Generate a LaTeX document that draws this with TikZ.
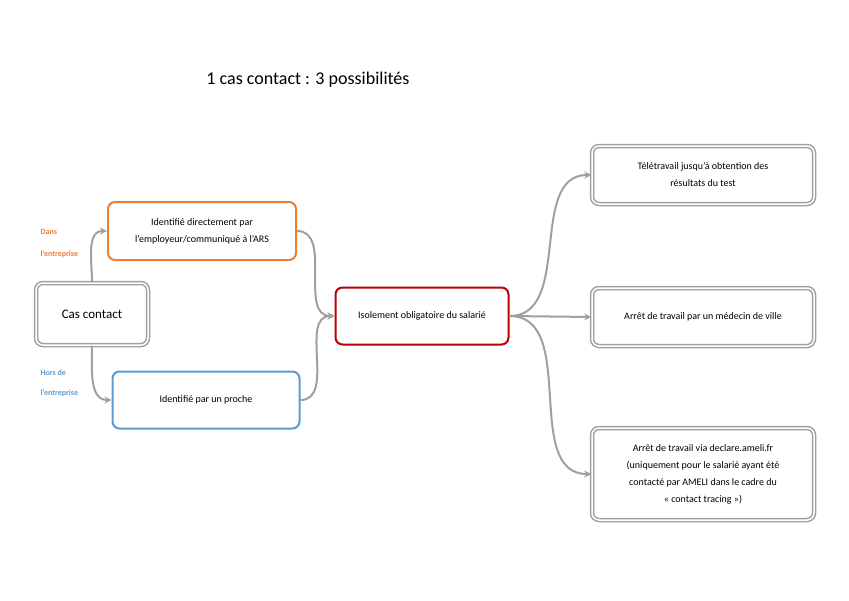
\documentclass[tikz,border=0pt]{standalone}
\usepackage{fontspec}
\setmainfont{Carlito}
\usetikzlibrary{arrows.meta}
\definecolor{org}{RGB}{237,125,49}
\definecolor{blu}{RGB}{91,155,213}
\definecolor{rd}{RGB}{192,0,0}
\definecolor{gr}{RGB}{160,160,160}
\begin{document}
\begin{tikzpicture}[x=1pt,y=-1pt,
  box/.style={rounded corners=7pt,align=center,font=\fontsize{10}{17}\selectfont,inner sep=0pt},
  colbox/.style={box,draw=#1,line width=2pt},
  dbox/.style={box,draw=gr,double=white,double distance=1.5pt,line width=1.5pt},
  conn/.style={draw=gr,line width=2pt,-{Stealth[length=7pt,width=7pt]}},
  lab/.style={font=\fontsize{8}{10}\selectfont\bfseries,anchor=west}]
\useasboundingbox (0,0) rectangle (849,600);
\node[font=\fontsize{18}{22}\selectfont] (title) at (308,80) {1 cas contact : 3 possibilités};
\node[dbox,minimum width=112pt,minimum height=62pt,font=\fontsize{13}{16}\selectfont] (cas) at (92,314) {Cas contact};
\node[colbox=org,minimum width=188pt,minimum height=58pt] (or) at (202,231) {Identifié directement par\\l’employeur/communiqué à l’ARS};
\node[colbox=blu,minimum width=187pt,minimum height=57pt] (bl) at (206,400) {Identifié par un proche};
\node[colbox=rd,minimum width=173pt,minimum height=57pt] (red) at (422,316) {Isolement obligatoire du salarié};
\node[dbox,minimum width=222pt,minimum height=58pt] (r1) at (703,175) {Télétravail jusqu’à obtention des\\résultats du test};
\node[dbox,minimum width=222pt,minimum height=58pt] (r2) at (703,317) {Arrêt de travail par un médecin de ville};
\node[dbox,minimum width=222pt,minimum height=92pt] (r3) at (703,474) {Arrêt de travail via declare.ameli.fr\\(uniquement pour le salarié ayant été\\contacté par AMELI dans le cadre du\\« contact tracing »)};
\node[lab,text=org] (d1) at (37,232) {Dans};
\node[lab,text=org] (d2) at (37,254) {l’entreprise};
\node[lab,text=blu] (h1) at (37,373) {Hors de};
\node[lab,text=blu] (h2) at (37,393) {l’entreprise};
\draw[conn] (cas.north) to[out=90,in=180] (or.west);
\draw[conn] (cas.south) to[out=-90,in=180] (bl.west);
\draw[conn] (or.east) to[out=0,in=180] (red.west);
\draw[conn] (bl.east) to[out=0,in=180] (red.west);
\draw[conn] (red.east) to[out=0,in=180] (r1.west);
\draw[conn] (red.east) -- (r2.west);
\draw[conn] (red.east) to[out=0,in=180] (r3.west);
\end{tikzpicture}
\end{document}
